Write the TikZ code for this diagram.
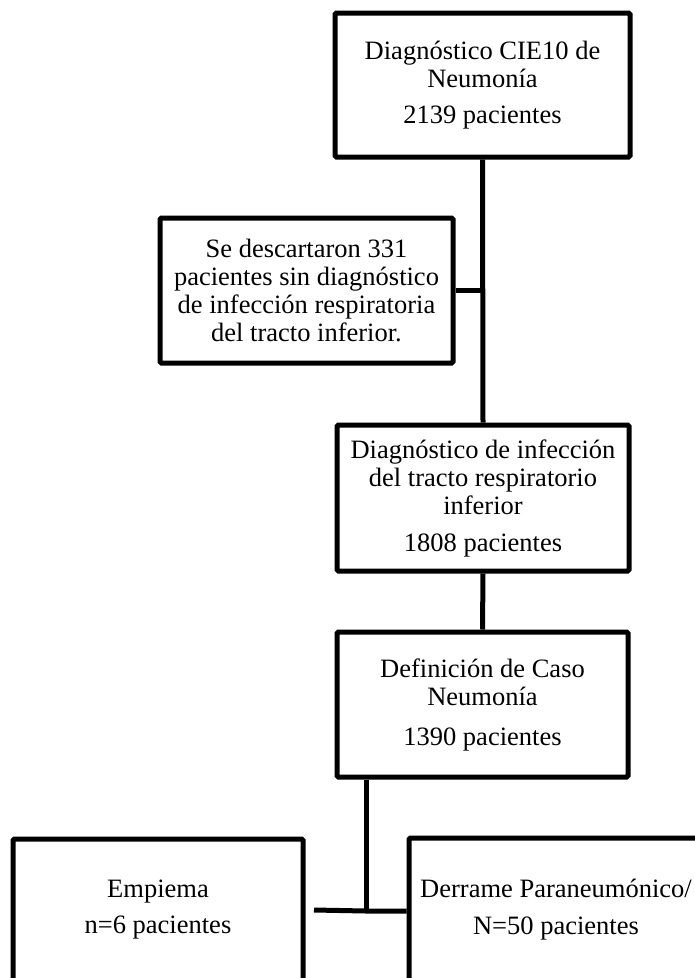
\documentclass[tikz,border=0pt]{standalone}
\usepackage{fontspec}
\setmainfont{Liberation Serif}
\begin{document}
\begin{tikzpicture}[x=1pt,y=-1pt,
  box/.style={draw=black, line width=5pt, rounded corners=1.5pt, rectangle, align=center,
    inner sep=0pt, font=\fontsize{26.5}{28}\selectfont},
  link/.style={draw=black, line width=5pt}]
\path[use as bounding box, clip] (0,0) rectangle (695,978);
\fill[white] (0,0) rectangle (695,978);
\node[box, minimum width=295pt, minimum height=144pt] (b1) at (482.5,85)
  {Diagnóstico CIE10 de\\Neumonía\\[8pt]2139 pacientes};
\node[box, minimum width=293pt, minimum height=145pt] (b2) at (306.5,290.5)
  {\fontsize{26.5}{27}\selectfont Se descartaron 331\\pacientes sin diagnóstico\\de infección respiratoria\\del tracto inferior.};
\node[box, minimum width=292pt, minimum height=146pt] (b3) at (483,498)
  {Diagnóstico de infección\\del tracto respiratorio\\inferior\\[9pt]1808 pacientes};
\node[box, minimum width=291pt, minimum height=145pt] (b4) at (482.5,704.5)
  {Definición de Caso\\Neumonía\\[12pt]1390 pacientes};
\node[box, minimum width=290pt, minimum height=142pt] (lb) at (158,910)
  {Empiema\\[8pt]n=6 pacientes};
\node[box, minimum width=294pt, minimum height=144pt] (rb) at (556,910)
  {Derrame Paraneumónico/\\[9pt]N=50 pacientes};
\coordinate (j) at (366,911);
\coordinate (l) at (314,910);
\draw[link] (b1.south) -- (b3.north);
\draw[link] (b2.east) -- (b2.east -| b1.south);
\draw[link] (b3.south) -- (b4.north);
\draw[link] (b4.south -| j) -- (j);
\draw[link] (l) -- (j) -- (j -| rb.west);
\end{tikzpicture}
\end{document}
